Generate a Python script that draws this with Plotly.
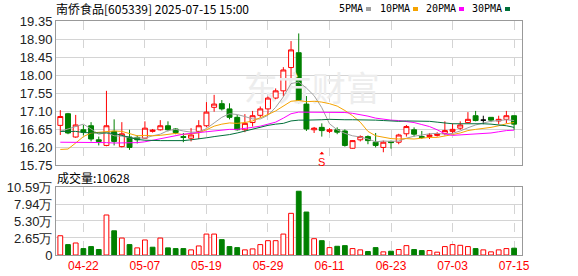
import plotly.graph_objects as go

dates = ["04-17","04-18","04-21","04-22","04-23","04-24","04-25","04-28","04-29","04-30",
         "05-06","05-07","05-08","05-09","05-12","05-13","05-14","05-15","05-16","05-19",
         "05-20","05-21","05-22","05-23","05-26","05-27","05-28","05-29","05-30","06-03",
         "06-04","06-05","06-06","06-09","06-10","06-11","06-12","06-13","06-16","06-17",
         "06-18","06-19","06-20","06-23","06-24","06-25","06-26","06-27","06-30","07-01",
         "07-02","07-03","07-04","07-07","07-08","07-09","07-10","07-11","07-14","07-15"]

opens = [16.75,17.04,16.46,16.64,16.74,16.39,16.25,16.60,16.22,16.46,
         16.45,16.43,16.60,16.64,16.74,16.66,16.47,16.43,16.60,16.74,
         17.20,17.29,17.16,16.95,16.64,16.82,17.00,17.16,17.43,17.61,
         18.19,18.56,17.28,16.64,16.70,16.60,16.64,16.61,16.18,16.39,
         16.47,16.33,16.20,16.35,16.33,16.54,16.64,16.47,16.47,16.50,
         16.55,16.60,16.68,16.82,16.99,16.88,16.95,16.86,16.90,16.99]
highs = [17.13,17.06,17.01,16.76,16.83,16.47,17.61,16.90,16.83,16.64,
         16.50,16.85,16.66,16.88,16.85,16.68,16.56,16.68,16.88,17.33,
         17.51,17.38,17.30,17.01,17.03,17.11,17.22,17.47,17.67,18.20,
         18.85,19.04,17.48,16.71,16.80,16.68,16.70,16.65,16.38,16.50,
         16.50,16.56,16.37,16.37,16.54,16.76,16.70,16.61,16.56,16.58,
         16.85,16.80,16.85,17.08,17.11,16.99,16.95,16.99,17.11,16.99]
lows = [16.51,16.53,16.44,16.50,16.35,16.25,16.23,16.25,16.20,16.14,
        16.30,16.41,16.57,16.62,16.60,16.53,16.33,16.35,16.41,16.70,
        17.09,17.12,16.90,16.62,16.58,16.72,16.95,17.01,17.40,17.47,
        17.88,17.30,16.61,16.56,16.47,16.56,16.53,16.22,16.17,16.35,
        16.28,16.20,16.08,16.17,16.28,16.47,16.47,16.41,16.41,16.47,
        16.50,16.55,16.64,16.80,16.85,16.78,16.83,16.78,16.80,16.64]
closes = [16.97,16.56,16.76,16.58,16.41,16.35,16.74,16.35,16.54,16.20,
          16.39,16.68,16.63,16.74,16.64,16.57,16.45,16.51,16.74,17.08,
          17.28,17.16,16.95,16.64,16.80,16.99,17.16,17.43,17.61,18.13,
          18.63,17.36,16.66,16.68,16.62,16.64,16.58,16.25,16.37,16.47,
          16.37,16.25,16.33,16.32,16.51,16.72,16.53,16.45,16.51,16.53,
          16.62,16.65,16.76,16.90,16.87,16.88,16.88,16.90,16.99,16.78]

volume_wan = [3.00,1.62,1.87,1.00,1.31,0.85,6.23,3.77,2.64,1.62,
              1.11,2.34,1.21,2.64,1.11,1.00,1.00,0.80,1.41,3.26,
              3.26,2.39,1.31,1.15,0.80,0.95,1.62,2.23,2.23,3.26,
              6.49,9.93,6.69,2.54,2.23,1.15,1.36,1.46,1.00,0.80,
              0.54,1.15,0.49,0.59,0.85,1.46,0.85,0.69,0.69,0.44,
              1.31,1.62,1.51,1.31,1.00,0.80,0.49,0.80,1.00,1.0628]

ma5 = [16.60,16.66,16.72,16.78,16.66,16.53,16.57,16.49,16.48,16.44,
       16.44,16.43,16.49,16.53,16.62,16.65,16.61,16.58,16.58,16.67,
       16.81,16.95,17.04,17.02,16.97,16.91,16.91,17.00,17.20,17.46,
       17.79,17.83,17.68,17.49,17.19,16.79,16.64,16.55,16.49,16.46,
       16.41,16.34,16.36,16.35,16.36,16.43,16.48,16.51,16.54,16.55,
       16.53,16.55,16.61,16.69,16.76,16.81,16.85,16.87,16.89,16.87]
ma10 = [16.15,16.16,16.31,16.47,16.56,16.58,16.60,16.61,16.60,16.55,
        16.49,16.50,16.49,16.50,16.53,16.55,16.52,16.54,16.56,16.64,
        16.73,16.78,16.81,16.80,16.82,16.86,16.93,17.02,17.11,17.22,
        17.35,17.37,17.34,17.35,17.33,17.29,17.23,17.12,16.99,16.83,
        16.60,16.49,16.46,16.42,16.41,16.42,16.41,16.43,16.45,16.45,
        16.48,16.52,16.56,16.62,16.65,16.67,16.70,16.74,16.79,16.82]
ma20 = [16.33,16.33,16.33,16.33,16.33,16.33,16.32,16.31,16.31,16.31,
        16.32,16.34,16.38,16.42,16.46,16.50,16.53,16.55,16.57,16.59,
        16.61,16.64,16.65,16.65,16.67,16.70,16.73,16.78,16.83,16.93,
        17.04,17.08,17.08,17.07,17.07,17.08,17.08,17.07,17.05,17.02,
        16.98,16.93,16.90,16.88,16.87,16.85,16.82,16.77,16.72,16.64,
        16.54,16.50,16.51,16.52,16.53,16.54,16.56,16.59,16.62,16.63]
ma30 = [16.60,16.60,16.60,16.57,16.56,16.56,16.56,16.55,16.50,16.45,
        16.40,16.38,16.37,16.37,16.37,16.37,16.37,16.39,16.41,16.44,
        16.47,16.49,16.52,16.56,16.61,16.66,16.71,16.75,16.78,16.80,
        16.86,16.88,16.88,16.88,16.89,16.90,16.89,16.89,16.89,16.89,
        16.89,16.88,16.87,16.86,16.85,16.86,16.86,16.86,16.85,16.83,
        16.81,16.79,16.79,16.79,16.80,16.79,16.78,16.76,16.74,16.70]

price_ticks = [15.75, 16.20, 16.65, 17.10, 17.55, 18.00, 18.45, 18.90, 19.35]
vol_ticks = [0, 2.65, 5.30, 7.94, 10.59]
vol_tick_text = ["0", "2.65万", "5.30万", "7.94万", "10.59万"]
date_ticks = ["04-22", "05-07", "05-19", "05-29", "06-11", "06-23", "07-03", "07-15"]
signal_date = "06-10"
title_text = "南侨食品[605339] 2025-07-15 15:00"
vol_label = "成交量:10628"
ma_names = ["5PMA", "10PMA", "20PMA", "30PMA"]

RED = "#ff0000"
GREEN = "#008000"
MA_COLORS = {"5PMA": "#a0a0a0", "10PMA": "#f5a300", "20PMA": "#ff00ff", "30PMA": "#006f3a"}
FONT_CJK = "Noto Sans CJK SC"
FONT_NUM = "Liberation Sans"
FONT_MONO = "DejaVu Sans Mono"

n = len(dates)
xs = list(range(n))
date_idx = [dates.index(d) for d in date_ticks]

fig = go.Figure()

# watermark
fig.add_trace(go.Scatter(x=[32.7], y=[17.58], mode="text", text=["东方财富"],
                         textfont=dict(size=34, color="#ededed", family=FONT_CJK),
                         hoverinfo="skip", showlegend=False, xaxis="x", yaxis="y"))

def sub(lst, idx):
    return [lst[i] for i in idx]

inc = [i for i in xs if closes[i] > opens[i]]
dec = [i for i in xs if closes[i] < opens[i]]
flat = [i for i in xs if closes[i] == opens[i]]

for idx, lc, fc in [(inc, RED, "#ffffff"), (dec, GREEN, GREEN), (flat, "#000000", "#000000")]:
    if not idx:
        continue
    fig.add_trace(go.Candlestick(
        x=idx, open=sub(opens, idx), high=sub(highs, idx), low=sub(lows, idx), close=sub(closes, idx),
        increasing=dict(line=dict(color=lc, width=1), fillcolor=fc),
        decreasing=dict(line=dict(color=lc, width=1), fillcolor=fc),
        whiskerwidth=0, showlegend=False, xaxis="x", yaxis="y"))

for name, vals in zip(ma_names, [ma5, ma10, ma20, ma30]):
    fig.add_trace(go.Scatter(x=xs, y=vals, mode="lines", line=dict(color=MA_COLORS[name], width=1),
                             showlegend=False, hoverinfo="skip", xaxis="x", yaxis="y"))

vol_up = [True] + [closes[i] >= closes[i - 1] for i in range(1, n)]
fig.add_trace(go.Bar(x=xs, y=volume_wan, width=0.62,
                     marker=dict(color=["#ffffff" if u else GREEN for u in vol_up],
                                 line=dict(color=[RED if u else GREEN for u in vol_up], width=1)),
                     showlegend=False, xaxis="x2", yaxis="y2"))

xr = [-0.56, 60.03]
grid_c = "#d4d4d4"
border_c = "#999999"
axis_common = dict(showline=True, mirror=True, linecolor=border_c, linewidth=1, zeroline=False,
                   ticks="", automargin=False)

fig.update_layout(
    width=578, height=276, margin=dict(l=56, r=56, t=21, b=21, autoexpand=False),
    plot_bgcolor="#ffffff", paper_bgcolor="#ffffff",
    boxgap=0.2, boxgroupgap=0.2,
    xaxis=dict(domain=[0, 1], range=xr, anchor="y", tickvals=date_idx, showticklabels=False,
               showgrid=True, gridcolor=grid_c, griddash="dash", rangeslider=dict(visible=False), **axis_common),
    yaxis=dict(domain=[0.3825, 1], range=[15.75, 19.35], tickvals=price_ticks,
               ticktext=[f"{v:.2f}" for v in price_ticks], showgrid=True, gridcolor=grid_c,
               tickfont=dict(size=13, color="#222222", family=FONT_NUM), **axis_common),
    xaxis2=dict(domain=[0, 1], range=xr, anchor="y2", tickvals=date_idx, ticktext=date_ticks,
                tickfont=dict(size=12, color=RED, family=FONT_NUM),
                showgrid=True, gridcolor=grid_c, griddash="dash", **axis_common),
    yaxis2=dict(domain=[0, 0.2906], range=[0, 10.59], tickvals=vol_ticks, ticktext=vol_tick_text,
                showgrid=True, gridcolor=grid_c,
                tickfont=dict(size=13, color="#222222", family=FONT_NUM), **axis_common),
    showlegend=False,
)

def px_x(px):
    return (px - 56) / 466.0

def px_y(py):
    return (255 - py) / 234.0

annotations = [
    dict(text=title_text, x=px_x(54), y=px_y(9), xref="paper", yref="paper", xanchor="left", yanchor="middle",
         showarrow=False, font=dict(size=12, color="#000000", family=FONT_CJK)),
    dict(text=vol_label, x=px_x(55), y=px_y(177), xref="paper", yref="paper", xanchor="left", yanchor="middle",
         showarrow=False, font=dict(size=12, color="#000000", family=FONT_CJK)),
]
shapes = []
legend_text_x = {"5PMA": 337, "10PMA": 378, "20PMA": 424, "30PMA": 470}
legend_sq_x = {"5PMA": 366, "10PMA": 413, "20PMA": 459, "30PMA": 505}
for name in ma_names:
    annotations.append(dict(
        text=name, x=px_x(legend_text_x[name]), y=px_y(9), xref="paper", yref="paper",
        xanchor="left", yanchor="middle", showarrow=False,
        font=dict(size=10, color="#000000", family=FONT_MONO)))
    sx = legend_sq_x[name]
    shapes.append(dict(type="rect", xref="paper", yref="paper",
                       x0=px_x(sx), x1=px_x(sx + 5), y0=px_y(11), y1=px_y(7),
                       fillcolor=MA_COLORS[name], line=dict(width=0)))

sig_i = dates.index(signal_date)
annotations.append(dict(text="S", x=sig_i, y=16.09, xref="x", yref="y", showarrow=True,
                        ax=0, ay=10, arrowhead=1, arrowsize=0.8, arrowwidth=1, arrowcolor=RED,
                        font=dict(size=11, color=RED, family=FONT_NUM)))
fig.update_layout(annotations=annotations, shapes=shapes)

fig.write_html("out.html")
